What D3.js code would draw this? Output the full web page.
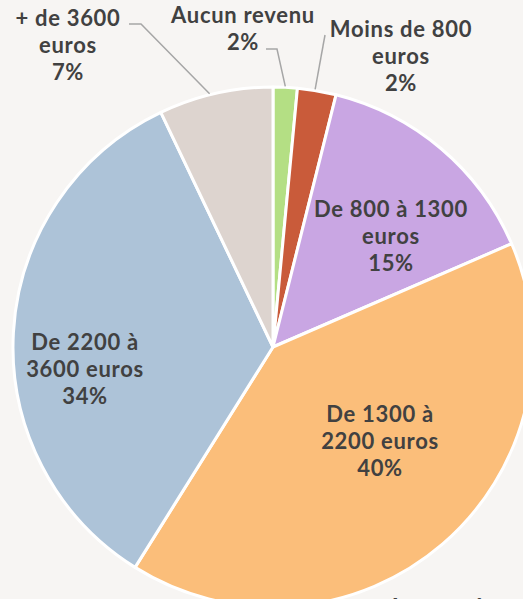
<!DOCTYPE html>
<html>
<head>
<meta charset="utf-8">
<script src="https://cdn.jsdelivr.net/npm/d3@7"></script>
<style>
  html, body { margin: 0; padding: 0; background: #f7f5f3; }
  svg { display: block; }
  text { font-family: Lato, "Open Sans", sans-serif; font-weight: bold; fill: #414141; }
</style>
</head>
<body>
<div class="chart"></div>
<script>
// income brackets, clockwise from 12 o'clock
var categories = ["Aucun revenu", "Moins de 800 euros", "De 800 à 1300 euros",
                  "De 1300 à 2200 euros", "De 2200 à 3600 euros", "+ de 3600 euros"];
var shares = [1.5, 2.4, 14.6, 40.4, 34.0, 7.1];
var labelLines = [
  ["Aucun revenu"],
  ["Moins de 800", "euros"],
  ["De 800 à 1300", "euros"],
  ["De 1300 à", "2200 euros"],
  ["De 2200 à", "3600 euros"],
  ["+ de 3600", "euros"]
];
var colors = ["#b4df84", "#c95b3a", "#c9a6e3", "#fbbe7a", "#adc3d8", "#ddd4cf"];

var width = 523, height = 599;
var cx = 273, cy = 347, radius = 260;

var svg = d3.select(".chart")
  .append("svg")
    .attr("width", width)
    .attr("height", height);

var g = svg.append("g")
    .attr("transform", "translate(" + cx + "," + cy + ")");

var pie = d3.pie()
    .sort(null)
    .value(function(d) { return d; });

var arc = d3.arc()
    .innerRadius(0)
    .outerRadius(radius);

var arcs = pie(shares);

g.selectAll(".slice")
  .data(arcs)
  .enter().append("path")
    .attr("class", "slice")
    .attr("d", arc)
    .attr("fill", function(d, i) { return colors[i]; })
    .attr("stroke", "#ffffff")
    .attr("stroke-width", 3)
    .attr("stroke-linejoin", "round");

// label placement (centre x, first baseline y) in page coords, plus leader lines for small slices
var labelPos = [
  {x: 243, y: 23, lead: [[266, 49], [277, 49]]},
  {x: 401, y: 37, lead: [[325, 35]]},
  {x: 391, y: 217},
  {x: 380, y: 422},
  {x: 85, y: 350},
  {x: 68, y: 26, lead: [[129, 24], [141, 24]]}
];
var lineH = 27;

// leader lines end on the pie edge inside their slice
arcs.forEach(function(d, i) {
  var p = labelPos[i];
  if (!p.lead) return;
  var a = (i == 0) ? (d.startAngle + d.endAngle) / 2 : d.startAngle + (d.endAngle - d.startAngle) * 0.45;
  var end = [cx + Math.sin(a) * (radius + 1), cy - Math.cos(a) * (radius + 1)];
  svg.append("path")
    .attr("d", d3.line()(p.lead.concat([end])))
    .attr("fill", "none")
    .attr("stroke", "#a6a6a6")
    .attr("stroke-width", 1.5);
});

arcs.forEach(function(d, i) {
  var p = labelPos[i];
  var lines = labelLines[i].concat([Math.round(shares[i]) + "%"]);
  var t = svg.append("text")
    .attr("text-anchor", "middle")
    .style("font-size", "22px")
    .style("letter-spacing", "0.7px");
  lines.forEach(function(s, k) {
    t.append("tspan")
      .attr("x", p.x)
      .attr("y", p.y + k * lineH)
      .text(s);
  });
});

// cut-off note at the bottom edge
svg.append("text")
  .attr("x", 388)
  .attr("y", 613)
  .style("font-size", "21px")
  .text("Aucune réponse");
</script>
</body>
</html>
